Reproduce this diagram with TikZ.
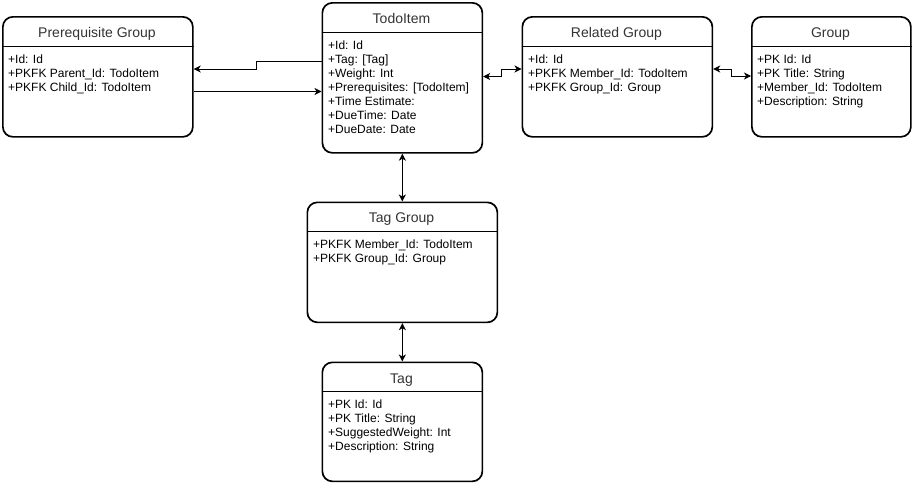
\documentclass[tikz,border=0pt]{standalone}
\usepackage{fontspec}
\setmainfont{Liberation Sans}
\usetikzlibrary{arrows.meta}
\begin{document}
\begin{tikzpicture}[x=1pt,y=-1pt,
  entity/.style={draw=black, line width=1.7pt, rounded corners=10pt, anchor=north west, inner sep=0pt, fill=white},
  hdr/.style={line width=1pt},
  ttl/.style={anchor=base, inner sep=0pt, font=\fontsize{14}{16}\selectfont, text=black!80},
  attr/.style={anchor=north west, inner sep=0pt, align=left, font=\fontsize{12}{14}\selectfont},
  conn/.style={line width=1pt, {Stealth[length=7pt,width=7pt,inset=2pt]}-{Stealth[length=7pt,width=7pt,inset=2pt]}},
  oneway/.style={line width=1pt, -{Stealth[length=7pt,width=7pt,inset=2pt]}}
]
\useasboundingbox (0,0) rectangle (912,482);

% Prerequisite Group
\node[entity, minimum width=190pt, minimum height=120pt] (pg) at (2,16) {};
\draw[hdr] (pg.west |- 0,46) -- (pg.east |- 0,46);
\node[ttl] (pgt) at (97,37.5) {Prerequisite Group};
\node[attr] (pga) at (8,53) {\rule{0pt}{10pt}+Id: Id\\+PKFK Parent\_Id: TodoItem\\+PKFK Child\_Id: TodoItem};

% TodoItem
\node[entity, minimum width=160pt, minimum height=150pt] (todo) at (321.5,2) {};
\draw[hdr] (todo.west |- 0,32) -- (todo.east |- 0,32);
\node[ttl] (todot) at (401.5,23.5) {TodoItem};
\node[attr] (todoa) at (328,39) {\rule{0pt}{10pt}+Id: Id\\+Tag: [Tag]\\+Weight: Int\\+Prerequisites: [TodoItem]\\+Time Estimate:\\+DueTime: Date\\+DueDate: Date};

% Related Group
\node[entity, minimum width=190pt, minimum height=120pt] (rg) at (521.5,16) {};
\draw[hdr] (rg.west |- 0,46.5) -- (rg.east |- 0,46.5);
\node[ttl] (rgt) at (616.5,37.5) {Related Group};
\node[attr] (rga) at (528,53) {\rule{0pt}{10pt}+Id: Id\\+PKFK Member\_Id: TodoItem\\+PKFK Group\_Id: Group};

% Group
\node[entity, minimum width=159pt, minimum height=120pt] (grp) at (751,16) {};
\draw[hdr] (grp.west |- 0,46.5) -- (grp.east |- 0,46.5);
\node[ttl] (grpt) at (830.5,37.5) {Group};
\node[attr] (grpa) at (757,53) {\rule{0pt}{10pt}+PK Id: Id\\+PK Title: String\\+Member\_Id: TodoItem\\+Description: String};

% Tag Group
\node[entity, minimum width=190pt, minimum height=120pt] (tg) at (306.5,201.5) {};
\draw[hdr] (tg.west |- 0,231) -- (tg.east |- 0,231);
\node[ttl] (tgt) at (401.5,222) {Tag Group};
\node[attr] (tga) at (313,238.5) {\rule{0pt}{10pt}+PKFK Member\_Id: TodoItem\\+PKFK Group\_Id: Group};

% Tag
\node[entity, minimum width=160pt, minimum height=119pt] (tag) at (321.5,361.5) {};
\draw[hdr] (tag.west |- 0,391.5) -- (tag.east |- 0,391.5);
\node[ttl] (tagt) at (401.5,383) {Tag};
\node[attr] (taga) at (328,398.5) {\rule{0pt}{10pt}+PK Id: Id\\+PK Title: String\\+SuggestedWeight: Int\\+Description: String};

% Connectors
\coordinate (p1) at (256.5,61.5);
\coordinate (p2) at (256.5,69);
\draw[oneway] (todo.west |- p1) -- (p1) -- (p2) -- (pg.east |- p2);
\coordinate (c1) at (0,91.5);
\draw[oneway] (pg.east |- c1) -- (todo.west |- c1);

\coordinate (r1) at (501.5,76.5);
\coordinate (r2) at (501.5,69);
\draw[conn] (todo.east |- r1) -- (r1) -- (r2) -- (rg.west |- r2);

\coordinate (g1) at (731.5,69);
\coordinate (g2) at (731.5,76);
\draw[conn] (rg.east |- g1) -- (g1) -- (g2) -- (grp.west |- g2);

\draw[conn] (todo.south) -- (tg.north);
\draw[conn] (tg.south) -- (tag.north);
\end{tikzpicture}
\end{document}
